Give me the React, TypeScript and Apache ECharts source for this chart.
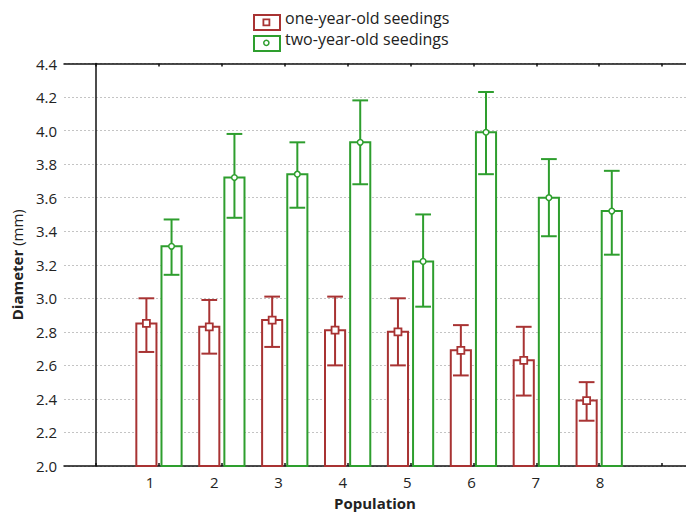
import React, { useEffect, useRef } from "react";
import * as echarts from "echarts";

const categories = ["1", "2", "3", "4", "5", "6", "7", "8"];
const categoryPositions = [1, 2, 3, 4, 5, 6, 7, 8];
const oneYearMean = [2.85, 2.83, 2.87, 2.81, 2.8, 2.69, 2.63, 2.39];
const oneYearLow = [2.68, 2.67, 2.71, 2.6, 2.6, 2.54, 2.42, 2.27];
const oneYearHigh = [3.0, 2.99, 3.01, 3.01, 3.0, 2.84, 2.83, 2.5];
const twoYearMean = [3.31, 3.72, 3.74, 3.93, 3.22, 3.99, 3.6, 3.52];
const twoYearLow = [3.14, 3.48, 3.54, 3.68, 2.95, 3.74, 3.37, 3.26];
const twoYearHigh = [3.47, 3.98, 3.93, 4.18, 3.5, 4.23, 3.83, 3.76];
const xTickValues = [0, 1, 2, 3, 4, 5, 6, 7, 8, 9];
const seriesNames = ["one-year-old seedings", "two-year-old seedings"];

const RED = "#a83333";
const GREEN = "#2e9e2e";
const FONT = "Open Sans";
const Y_MIN = 2.0;
const Y_MAX = 4.4;

function makeRender(color: string, offset: number, marker: "square" | "circle") {
  return (params: any, api: any) => {
    const x = api.value(0);
    const m = api.value(1);
    const lo = api.value(2);
    const hi = api.value(3);
    const unit = api.size([1, 0])[0];
    const pm = api.coord([x, m]);
    const cx = pm[0] + offset * unit;
    const yM = pm[1];
    const yB = api.coord([x, Y_MIN])[1];
    const yL = api.coord([x, lo])[1];
    const yH = api.coord([x, hi])[1];
    const w = 0.32 * unit;
    const cap = 0.25 * unit;
    const ls = { stroke: color, lineWidth: 2 };
    const children: any[] = [
      {
        type: "rect",
        shape: { x: cx - w / 2, y: yM, width: w, height: yB - yM },
        style: { fill: "#ffffff", stroke: color, lineWidth: 2 },
      },
      { type: "line", shape: { x1: cx, y1: yL, x2: cx, y2: yH }, style: ls },
      { type: "line", shape: { x1: cx - cap / 2, y1: yL, x2: cx + cap / 2, y2: yL }, style: ls },
      { type: "line", shape: { x1: cx - cap / 2, y1: yH, x2: cx + cap / 2, y2: yH }, style: ls },
    ];
    if (marker === "square") {
      children.push({
        type: "rect",
        shape: { x: cx - 3.5, y: yM - 3.5, width: 7, height: 7 },
        style: { fill: "#ffffff", stroke: color, lineWidth: 1.8 },
      });
    } else {
      children.push({
        type: "circle",
        shape: { cx, cy: yM, r: 2.8 },
        style: { fill: "#ffffff", stroke: color, lineWidth: 1.5 },
      });
    }
    return { type: "group", children };
  };
}

export default function App() {
  const ref = useRef<HTMLDivElement>(null);
  useEffect(() => {
    if (!ref.current) return;
    const chart = echarts.init(ref.current, null, { renderer: "svg" });
    const redData = categoryPositions.map((p, i) => [p, oneYearMean[i], oneYearLow[i], oneYearHigh[i]]);
    const greenData = categoryPositions.map((p, i) => [p, twoYearMean[i], twoYearLow[i], twoYearHigh[i]]);
    const axisLineStyle = { color: "#111", width: 1.5 };
    chart.setOption({
      animation: false,
      backgroundColor: "#ffffff",
      textStyle: { fontFamily: FONT },
      grid: { left: 64, right: 0, top: 63.5, bottom: 48, containLabel: false, outerBoundsMode: "none" },
      xAxis: [
        {
          type: "value",
          min: -0.51,
          max: 9.38,
          position: "bottom",
          axisLine: { show: true, lineStyle: axisLineStyle },
          axisTick: { show: true, inside: true, length: 3, customValues: xTickValues, lineStyle: { color: "#111", width: 1.5 } },
          axisLabel: { show: false },
          splitLine: { show: false },
          name: "Population",
          nameLocation: "middle",
          nameGap: 29,
          nameTextStyle: { fontFamily: FONT, fontWeight: "bold", fontSize: 15, color: "#222" },
        },
        {
          type: "value",
          min: -0.337,
          max: 9.336,
          position: "bottom",
          axisLine: { show: false },
          axisTick: { show: false },
          axisLabel: {
            show: true,
            customValues: categoryPositions,
            formatter: (v: number) => categories[Math.round(v) - 1] ?? "",
            fontFamily: FONT,
            fontSize: 15,
            color: "#222",
            margin: 8,
          },
          splitLine: { show: false },
        },
        {
          type: "value",
          min: -0.51,
          max: 9.38,
          position: "top",
          axisLine: { show: true, lineStyle: axisLineStyle },
          axisTick: { show: true, inside: true, length: 3, customValues: xTickValues, lineStyle: { color: "#111", width: 1.5 } },
          axisLabel: { show: false },
          splitLine: { show: false },
        },
      ],
      yAxis: {
        type: "value",
        min: Y_MIN,
        max: Y_MAX,
        interval: 0.2,
        axisLine: { show: true, lineStyle: axisLineStyle },
        axisTick: { show: false },
        axisLabel: {
          formatter: (v: number) => v.toFixed(1),
          fontFamily: FONT,
          fontSize: 15,
          color: "#222",
          margin: 7,
        },
        splitLine: { show: true, lineStyle: { color: "#c4c4c4", type: [2, 2], width: 1 } },
        name: "{b|Diameter} (mm)",
        nameLocation: "middle",
        nameGap: 40,
        nameTextStyle: {
          fontFamily: FONT,
          fontSize: 15,
          color: "#222",
          rich: { b: { fontFamily: FONT, fontSize: 15, fontWeight: "bold", color: "#222" } },
        },
      },
      graphic: [
        { type: "rect", left: 253, top: 14, shape: { width: 26, height: 15 }, style: { fill: "#fff", stroke: RED, lineWidth: 2 } },
        { type: "rect", left: 262.5, top: 18.5, shape: { width: 6, height: 6 }, style: { fill: "#fff", stroke: RED, lineWidth: 1.8 } },
        { type: "text", left: 285, top: 10, style: { text: seriesNames[0], font: `16px "${FONT}"`, fill: "#222" } },
        { type: "rect", left: 253, top: 35, shape: { width: 26, height: 15 }, style: { fill: "#fff", stroke: GREEN, lineWidth: 2 } },
        { type: "circle", left: 263, top: 39.5, shape: { r: 2.6 }, style: { fill: "#fff", stroke: GREEN, lineWidth: 1.5 } },
        { type: "text", left: 285, top: 31, style: { text: seriesNames[1], font: `16px "${FONT}"`, fill: "#222" } },
      ],
      series: [
        {
          name: seriesNames[0],
          type: "custom",
          xAxisIndex: 0,
          yAxisIndex: 0,
          data: redData,
          renderItem: makeRender(RED, -0.2, "square"),
          encode: { x: 0, y: [1, 2, 3] },
          clip: false,
        },
        {
          name: seriesNames[1],
          type: "custom",
          xAxisIndex: 0,
          yAxisIndex: 0,
          data: greenData,
          renderItem: makeRender(GREEN, 0.2, "circle"),
          encode: { x: 0, y: [1, 2, 3] },
          clip: false,
        },
      ],
    });
    return () => chart.dispose();
  }, []);
  return <div ref={ref} style={{ position: "absolute", left: 0, top: 0, width: 686, height: 514 }} />;
}
